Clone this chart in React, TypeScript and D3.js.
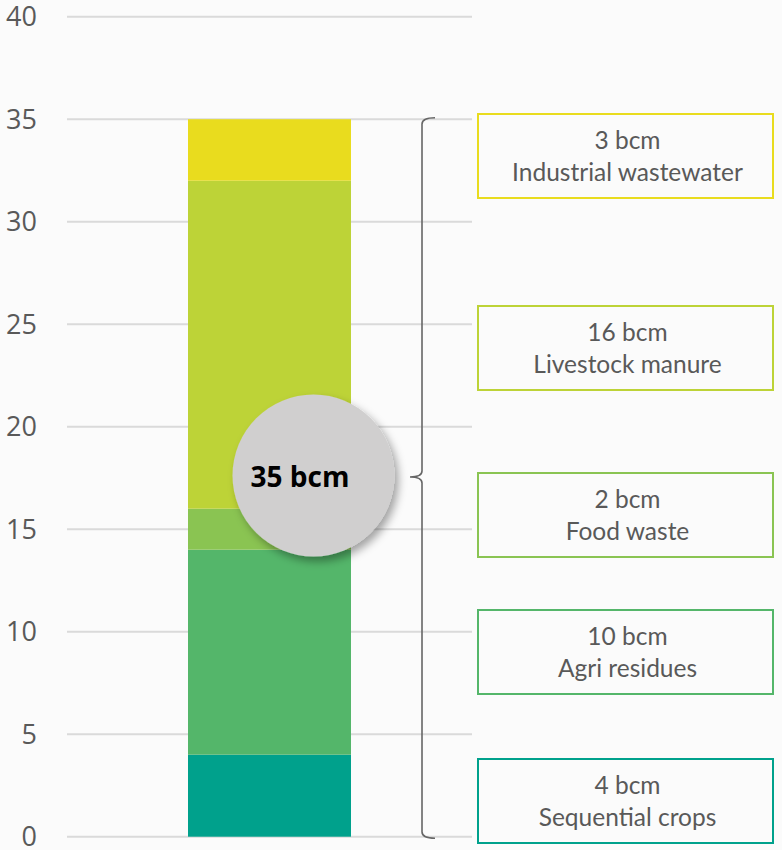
import React from "react";
import * as d3 from "d3";

const categories = ["Sequential crops", "Agri residues", "Food waste", "Livestock manure", "Industrial wastewater"];
const values = [4, 10, 2, 16, 3];
const colors = ["#00A18C", "#54B66A", "#8AC452", "#BDD337", "#E9DC1E"];
const yTicks = [0, 5, 10, 15, 20, 25, 30, 35, 40];
const totalLabel = "35 bcm";
const unit = "bcm";

// layout: top of each annotation box (pixels), in category order
const boxTops = [759, 610, 473, 306, 114];

const W = 782;
const H = 850;

export default function App() {
  const y = d3.scaleLinear().domain([0, 40]).range([836.7, 16.7]);
  const stack = d3.stack<any>().keys(categories)([
    Object.fromEntries(categories.map((c, i) => [c, values[i]])),
  ]);
  const total = d3.sum(values);
  const barX0 = 188;
  const barX1 = 351;
  const gridX0 = 67;
  const gridX1 = 472;
  const boxX0 = 478;
  const boxX1 = 773;
  const boxH = 84;
  const bx = 422;
  const yTop = y(total);
  const yBot = y(0);
  const yMid = 477;
  const r = 5;
  const brace = [
    `M ${bx + 13} ${yTop - 1.5}`,
    `Q ${bx} ${yTop - 1.5} ${bx} ${yTop + r}`,
    `L ${bx} ${yMid - 6}`,
    `Q ${bx} ${yMid} ${bx - 12} ${yMid}`,
    `Q ${bx} ${yMid} ${bx} ${yMid + 6}`,
    `L ${bx} ${yBot - r}`,
    `Q ${bx} ${yBot + 1.5} ${bx + 13} ${yBot + 1.5}`,
  ].join(" ");

  return (
    <svg
      width={W}
      height={H}
      style={{ position: "absolute", left: 0, top: 0 }}
      fontFamily="'Open Sans', sans-serif"
    >
      <defs>
        <filter id="shadow" x="-30%" y="-30%" width="160%" height="160%">
          <feDropShadow dx="4" dy="5" stdDeviation="4" floodColor="#000" floodOpacity="0.35" />
        </filter>
      </defs>
      <rect x={0} y={0} width={W} height={H} fill="#FBFBFB" />
      {yTicks.map((t) => (
        <g key={t}>
          <line x1={gridX0} x2={gridX1} y1={y(t)} y2={y(t)} stroke="#DADADA" strokeWidth={2} />
          <text
            x={37}
            y={y(t)}
            dy="0.36em"
            textAnchor="end"
            fontSize={27}
            fill="#595959"
          >
            {t}
          </text>
        </g>
      ))}
      {stack.map((s, i) => (
        <rect
          key={s.key}
          x={barX0}
          width={barX1 - barX0}
          y={y(s[0][1])}
          height={y(s[0][0]) - y(s[0][1])}
          fill={colors[i]}
        />
      ))}
      <path d={brace} fill="none" stroke="#666" strokeWidth={1.6} />
      <g filter="url(#shadow)">
        <circle cx={313.5} cy={475.5} r={81} fill="#D0CFCF" />
      </g>
      <text
        x={300}
        y={487}
        textAnchor="middle"
        fontSize={28}
        fontWeight="bold"
        fill="#000"
        fontFamily="'Open Sans', sans-serif"
      >
        {totalLabel}
      </text>
      {categories.map((c, i) => (
        <g key={c}>
          <rect
            x={boxX0}
            y={boxTops[i]}
            width={boxX1 - boxX0}
            height={boxH}
            fill="none"
            stroke={colors[i]}
            strokeWidth={2}
          />
          <text
            x={(boxX0 + boxX1) / 2 + 2}
            y={boxTops[i] + 35}
            textAnchor="middle"
            fontSize={24.5}
            fill="#595959"
            fontFamily="Lato, sans-serif"
          >
            {`${values[i]} ${unit}`}
          </text>
          <text
            x={(boxX0 + boxX1) / 2 + 2}
            y={boxTops[i] + 67}
            textAnchor="middle"
            fontSize={24.5}
            fill="#595959"
            fontFamily="Lato, sans-serif"
          >
            {c}
          </text>
        </g>
      ))}
    </svg>
  );
}
